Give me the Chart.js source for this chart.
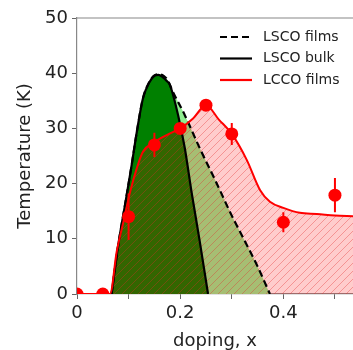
<!DOCTYPE html>
<html>
<head>
<meta charset="utf-8">
<title>Tc vs doping</title>
<script src="https://cdn.jsdelivr.net/npm/chart.js@4.4.1/dist/chart.umd.min.js"></script>
<style>
    html, body { margin: 0; padding: 0; background: #fff; }
    #wrap { width: 353px; height: 350px; position: relative; }
</style>
</head>
<body>
<div id="wrap"><canvas id="phaseChart"></canvas></div>
<script>
// LSCO bulk dome
const bulkX = [0.067, 0.080, 0.093, 0.106, 0.116, 0.128, 0.140, 0.150, 0.158, 0.166, 0.174, 0.180, 0.196, 0.209, 0.222, 0.238, 0.254];
const bulkT = [0, 8.9, 16.1, 23.4, 29.4, 35.5, 38.3, 39.5, 39.7, 39.3, 38.6, 37.9, 32.4, 26.4, 18.5, 9.5, 0];

// LSCO films dome
const filmX = [0.067, 0.080, 0.093, 0.106, 0.116, 0.128, 0.140, 0.150, 0.160, 0.168, 0.176, 0.185, 0.209, 0.238, 0.268, 0.300, 0.323, 0.350, 0.374];
const filmT = [0, 8.9, 16.1, 23.4, 29.4, 35.5, 38.4, 39.6, 39.8, 39.5, 38.7, 36.8, 32.4, 26.4, 20.6, 14.2, 10.0, 5.0, 0];

// LCCO films guide line
const lccoX = [0, 0.05, 0.064, 0.077, 0.090, 0.103, 0.116, 0.128, 0.148, 0.174, 0.200, 0.225, 0.250, 0.275, 0.300, 0.329, 0.355, 0.374, 0.400, 0.432, 0.465, 0.500, 0.535];
const lccoT = [0, 0, 0, 7.7, 13.1, 18.5, 22.8, 25.8, 27.4, 28.8, 30.0, 31.8, 34.2, 31.6, 29.0, 24.3, 18.8, 16.7, 15.6, 14.7, 14.5, 14.2, 14.1];

// LCCO measured points
const pointX = [0, 0.05, 0.10, 0.15, 0.20, 0.25, 0.30, 0.40, 0.50];
const pointT = [0, 0, 14.0, 27.0, 30.0, 34.2, 29.0, 13.0, 17.9];
const pointErr = [0, 0, 4.2, 2.2, 1.0, 1.0, 2.0, 1.8, 3.1];

// axis ticks and legend
const xTickLabels = ['0', '0.2', '0.4'];
const yTicks = [0, 10, 20, 30, 40, 50];
const legendLabels = ['LSCO films', 'LSCO bulk', 'LCCO films'];

Chart.defaults.font.family = "'DejaVu Sans', sans-serif";
Chart.defaults.color = '#222';

function toXY(xs, ys) {
    return xs.map((x, i) => ({ x: x, y: ys[i] }));
}

// pink background with red "/" hatch
function makeHatch() {
    const c = document.createElement('canvas');
    c.width = 8;
    c.height = 8;
    const g = c.getContext('2d');
    g.fillStyle = 'rgba(255, 0, 0, 0.2)';
    g.fillRect(0, 0, 8, 8);
    g.strokeStyle = 'rgba(225, 40, 40, 0.35)';
    g.lineWidth = 1;
    g.beginPath();
    g.moveTo(0, 8); g.lineTo(8, 0);
    g.moveTo(-2, 2); g.lineTo(2, -2);
    g.moveTo(6, 10); g.lineTo(10, 6);
    g.stroke();
    return g.createPattern(c, 'repeat');
}

// vertical error bars under the markers
const errorBars = {
    id: 'errorBars',
    beforeDatasetDraw(chart, args) {
        const ds = chart.data.datasets[args.index];
        if (!ds.errors) return;
        const xs = chart.scales.x, ys = chart.scales.y;
        const ctx = chart.ctx;
        ctx.save();
        ctx.strokeStyle = ds.backgroundColor;
        ctx.lineWidth = 2;
        ctx.beginPath();
        ds.data.forEach((p, i) => {
            const e = ds.errors[i];
            if (!e) return;
            const px = xs.getPixelForValue(p.x);
            ctx.moveTo(px, ys.getPixelForValue(p.y - e));
            ctx.lineTo(px, ys.getPixelForValue(p.y + e));
        });
        ctx.stroke();
        ctx.restore();
    }
};

// top spine + inset legend
const frameAndLegend = {
    id: 'frameAndLegend',
    afterDraw(chart) {
        const ctx = chart.ctx;
        const area = chart.chartArea;
        ctx.save();
        ctx.strokeStyle = '#888';
        ctx.lineWidth = 1.2;
        ctx.beginPath();
        ctx.moveTo(area.left, area.top);
        ctx.lineTo(area.right, area.top);
        ctx.stroke();

        const styles = [
            { color: '#000', dash: [7, 4] },
            { color: '#000', dash: [] },
            { color: 'red', dash: [] }
        ];
        ctx.font = "14px 'DejaVu Sans', sans-serif";
        ctx.textBaseline = 'middle';
        ctx.fillStyle = '#222';
        legendLabels.forEach((label, i) => {
            const y = area.top + 19 + i * 21.5;
            const x0 = area.right - 133;
            ctx.strokeStyle = styles[i].color;
            ctx.setLineDash(styles[i].dash);
            ctx.lineWidth = 2.2;
            ctx.beginPath();
            ctx.moveTo(x0, y);
            ctx.lineTo(x0 + 32, y);
            ctx.stroke();
            ctx.fillText(label, x0 + 43, y);
        });
        ctx.restore();
    }
};

const ctx = document.getElementById('phaseChart');
const hatch = makeHatch();

new Chart(ctx, {
    type: 'line',
    data: {
        datasets: [
            {
                label: 'LCCO points',
                data: toXY(pointX, pointT),
                errors: pointErr,
                showLine: false,
                backgroundColor: 'red',
                borderColor: 'red',
                pointRadius: 6.5,
                pointBorderWidth: 0,
                clip: 0,
                order: 0
            },
            {
                label: legendLabels[2],
                data: toXY(lccoX, lccoT),
                borderColor: 'red',
                borderWidth: 2,
                pointRadius: 0,
                cubicInterpolationMode: 'monotone',
                fill: false,
                order: 1
            },
            {
                label: legendLabels[1],
                data: toXY(bulkX, bulkT),
                borderColor: '#000',
                borderWidth: 2.2,
                pointRadius: 0,
                cubicInterpolationMode: 'monotone',
                fill: false,
                order: 2
            },
            {
                label: legendLabels[0],
                data: toXY(filmX, filmT),
                borderColor: '#000',
                borderWidth: 2.2,
                borderDash: [7, 4],
                pointRadius: 0,
                cubicInterpolationMode: 'monotone',
                fill: false,
                order: 3
            },
            {
                label: 'LCCO fill',
                data: toXY(lccoX, lccoT),
                borderWidth: 0,
                borderColor: 'rgba(0,0,0,0)',
                backgroundColor: hatch,
                pointRadius: 0,
                cubicInterpolationMode: 'monotone',
                fill: 'origin',
                order: 4
            },
            {
                label: 'bulk fill',
                data: toXY(bulkX, bulkT),
                borderWidth: 0,
                borderColor: 'rgba(0,0,0,0)',
                backgroundColor: 'rgb(0, 128, 0)',
                pointRadius: 0,
                cubicInterpolationMode: 'monotone',
                fill: 'origin',
                order: 5
            },
            {
                label: 'films fill',
                data: toXY(filmX, filmT),
                borderWidth: 0,
                borderColor: 'rgba(0,0,0,0)',
                backgroundColor: 'rgb(144, 238, 144)',
                pointRadius: 0,
                cubicInterpolationMode: 'monotone',
                fill: 'origin',
                order: 6
            }
        ]
    },
    options: {
        responsive: true,
        maintainAspectRatio: false,
        animation: false,
        layout: { autoPadding: false, padding: { top: 18, right: 0, left: 0, bottom: 0 } },
        plugins: {
            legend: { display: false },
            tooltip: { enabled: false }
        },
        scales: {
            x: {
                type: 'linear',
                min: 0,
                max: 0.535,
                z: 1,
                afterFit(scale) { scale.height = 56; },
                ticks: {
                    stepSize: 0.1,
                    includeBounds: false,
                    autoSkip: false,
                    maxRotation: 0,
                    padding: 4,
                    font: { size: 18 },
                    color: '#222',
                    callback: v => {
                        const k = Math.round(v * 10);
                        return k % 2 === 0 ? xTickLabels[k / 2] : '';
                    }
                },
                grid: { drawOnChartArea: false, tickLength: 5, color: '#666' },
                border: { color: '#888', width: 1.2 },
                title: {
                    display: true,
                    text: 'doping, x',
                    font: { size: 18, lineHeight: 1 },
                    color: '#222',
                    padding: { top: 0, bottom: 0 }
                }
            },
            y: {
                min: yTicks[0],
                max: yTicks[yTicks.length - 1],
                z: 1,
                afterFit(scale) { scale.width = 77; },
                ticks: {
                    stepSize: 10,
                    padding: 4,
                    font: { size: 18 },
                    color: '#222'
                },
                grid: { drawOnChartArea: false, tickLength: 5, color: '#666' },
                border: { color: '#888', width: 1.2 },
                title: {
                    display: true,
                    text: 'Temperature (K)',
                    font: { size: 18, lineHeight: 1 },
                    color: '#222',
                    padding: { top: 16, bottom: 0 }
                }
            }
        }
    },
    plugins: [errorBars, frameAndLegend]
});
</script>
</body>
</html>
